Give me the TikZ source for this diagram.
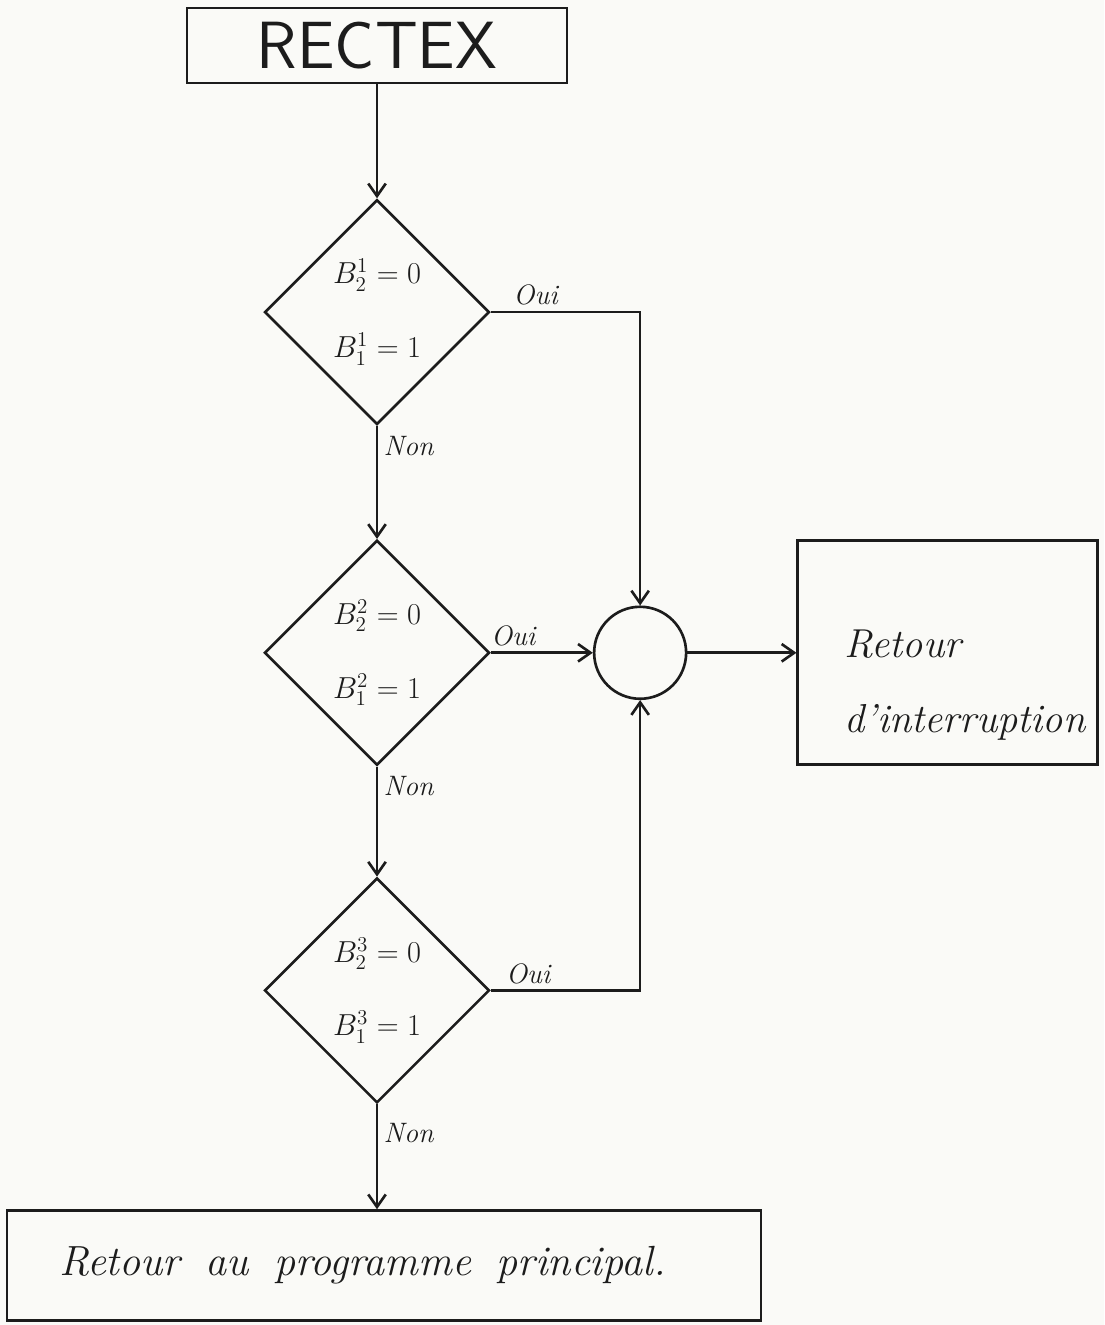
\documentclass[tikz,border=0pt]{standalone}
\usepackage{amsmath}
\usepackage{xcolor}
\usepackage{tikz}
\usetikzlibrary{positioning, arrows.meta, shapes.geometric}
\definecolor{paper}{RGB}{250,250,247}
\definecolor{ink}{RGB}{28,28,28}
\newcommand{\wordgap}{\spaceskip=0.6em plus 0.1em\relax}

\begin{document}
\begin{tikzpicture}[
  node distance=2.3cm,
  line width=1.5pt,
  draw=ink,text=ink,
  start/.style={draw=ink,minimum width=7.6cm,minimum height=1.5cm,inner sep=0pt,font=\sffamily\fontsize{38}{44}\selectfont},
  test/.style={draw=ink,diamond,aspect=1,minimum width=4.5cm,minimum height=4.5cm,inner sep=0pt,align=center,font=\fontsize{18}{42}\selectfont},
  junction/.style={draw=ink,circle,minimum size=1.84cm,inner sep=0pt},
  exit/.style={draw=ink,minimum width=6.0cm,minimum height=4.48cm,inner sep=0pt},
  exitlbl/.style={align=left,inner sep=0pt,font=\itshape\fontsize{23}{43}\selectfont},
  back/.style={draw=ink,minimum width=15.08cm,minimum height=2.2cm,inner xsep=1cm,text width=13cm,align=left,font=\itshape\fontsize{24}{28}\selectfont},
  arrow/.style={-{Straight Barb[length=2.5mm,width=3.5mm]}},
  note/.style={font=\itshape\fontsize{16}{18}\selectfont,inner sep=3pt},
]

\fill[paper] (0,0) rectangle (22.08,-26.5);
\useasboundingbox (0,0) rectangle (22.08,-26.5);

\node[start] (rectex) at (7.54,-0.91) {RECTEX};
\node[test,below=2.28cm of rectex] (t1) {$B_2^1 = 0$\\$B_1^1 = 1$};
\node[test,below=2.26cm of t1] (t2) {$B_2^2 = 0$\\$B_1^2 = 1$};
\node[test,below=2.2cm of t2] (t3) {$B_2^3 = 0$\\$B_1^3 = 1$};
\node[back,below=2.1cm of t3,xshift=0.14cm] (back) {\wordgap Retour au programme principal.};

\node[junction,right=2.04cm of t2] (merge) {};
\node[exit,right=2.18cm of merge] (ret) {};
\node[exitlbl,anchor=north west] (retlbl) at ([xshift=0.94cm,yshift=-1.78cm]ret.north west) {Retour\\d'interruption};

\draw[arrow] (rectex.south) -- (t1.north);
\draw[arrow] (t1.south) -- node[note,right,pos=0.18] {Non} (t2.north);
\draw[arrow] (t2.south) -- node[note,right,pos=0.18] {Non} (t3.north);
\draw[arrow] (t3.south) -- node[note,right,pos=0.27] {Non} (back.north -| t3.south);

\draw[arrow] (t1.east) -- node[note,above,pos=0.3] {Oui} (t1.east -| merge.north) -- (merge.north);
\draw[arrow] (t2.east) -- node[note,above,pos=0.22] {Oui} (merge.west);
\draw[arrow] (t3.east) -- node[note,above,pos=0.25] {Oui} (t3.east -| merge.south) -- (merge.south);
\draw[arrow] (merge.east) -- (ret.west);

\end{tikzpicture}
\end{document}
